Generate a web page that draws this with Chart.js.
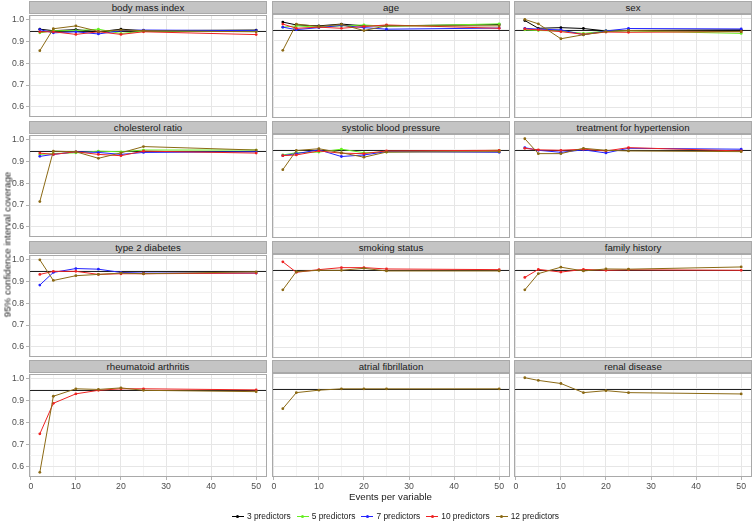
<!DOCTYPE html>
<html>
<head>
<meta charset="utf-8">
<script src="https://cdn.jsdelivr.net/npm/chart.js@4.4.1/dist/chart.umd.min.js"></script>
<style>
  body { margin: 0; background: #fff; font-family: "Liberation Sans", Arial, sans-serif; }
  #fig { position: relative; width: 756px; height: 525px; overflow: hidden; background: #fff; }
  .strip {
    position: absolute; box-sizing: border-box; background: #c4c4c4; border: 1px solid #a9a9a9;
    color: #1a1a1a; font-size: 9.7px; text-align: center; line-height: 11px;
  }
  canvas { position: absolute; }
  .title { position: absolute; z-index: 2; color: #1a1a1a; font-size: 9.7px; text-align: center; white-space: nowrap; }
  #legend { position: absolute; z-index: 2; left: 29px; width: 733px; top: 511px; text-align: center; font-size: 8.4px; color: #1a1a1a; }
  .item { display: inline-block; margin: 0 3px; white-space: nowrap; }
  .key { display: inline-block; position: relative; width: 12px; height: 10px; vertical-align: middle; margin-right: 3px; }
  .key .ln { position: absolute; left: 0; right: 0; top: 4.5px; height: 1px; }
  .key .dt { position: absolute; left: 4.5px; top: 3.5px; width: 3px; height: 3px; border-radius: 50%; }
</style>
</head>
<body>
<div id="fig"></div>
<script>
const eventsPerVariable = [2, 5, 10, 15, 20, 25, 50];

const panelTitles = [
  "body mass index", "age", "sex",
  "cholesterol ratio", "systolic blood pressure", "treatment for hypertension",
  "type 2 diabetes", "smoking status", "family history",
  "rheumatoid arthritis", "atrial fibrillation", "renal disease"
];

const seriesNames = ["3 predictors", "5 predictors", "7 predictors", "10 predictors", "12 predictors"];
const seriesColors = ["#000000", "#66ee22", "#2222ff", "#ee2222", "#8b6914"];

const targetCoverage = 0.95;

const xTickValues = [0, 5, 10, 15, 20, 25, 30, 35, 40, 45, 50];
const xTickLabels = ["0", "10", "20", "30", "40", "50"];
const yTickValues = [0.55, 0.6, 0.65, 0.7, 0.75, 0.8, 0.85, 0.9, 0.95, 1.0];
const yTickLabels = ["0.6", "0.7", "0.8", "0.9", "1.0"];

// one row per panel, in panel order; a model with k predictors only covers the first k panels
const coverage3 = [
  [0.957, 0.950, 0.955, 0.945, 0.957, 0.950, 0.953],
  [0.985, 0.972, 0.968, 0.976, 0.968, 0.968, 0.974],
  [0.992, 0.957, 0.960, 0.956, 0.945, 0.947, 0.950]
];
const coverage5 = [
  [0.940, 0.950, 0.950, 0.957, 0.937, 0.948, 0.947],
  [0.962, 0.968, 0.962, 0.968, 0.972, 0.966, 0.977],
  [0.950, 0.947, 0.945, 0.934, 0.945, 0.945, 0.934],
  [0.933, 0.937, 0.940, 0.948, 0.945, 0.953, 0.953],
  [0.927, 0.937, 0.940, 0.953, 0.937, 0.940, 0.948]
];
const coverage7 = [
  [0.955, 0.940, 0.945, 0.935, 0.950, 0.953, 0.950],
  [0.962, 0.951, 0.960, 0.970, 0.960, 0.953, 0.958],
  [0.957, 0.953, 0.950, 0.928, 0.945, 0.956, 0.954],
  [0.924, 0.933, 0.945, 0.942, 0.933, 0.942, 0.945],
  [0.924, 0.933, 0.950, 0.920, 0.927, 0.942, 0.939],
  [0.960, 0.948, 0.939, 0.950, 0.936, 0.957, 0.953],
  [0.884, 0.942, 0.960, 0.957, 0.942, 0.939, 0.939]
];
const coverage10 = [
  [0.945, 0.945, 0.933, 0.945, 0.933, 0.945, 0.932],
  [0.976, 0.957, 0.962, 0.957, 0.965, 0.972, 0.957],
  [0.954, 0.950, 0.942, 0.930, 0.940, 0.939, 0.942],
  [0.939, 0.933, 0.945, 0.933, 0.927, 0.948, 0.939],
  [0.924, 0.927, 0.945, 0.935, 0.933, 0.945, 0.948],
  [0.957, 0.950, 0.948, 0.953, 0.945, 0.960, 0.945],
  [0.933, 0.947, 0.947, 0.933, 0.936, 0.936, 0.939],
  [0.986, 0.939, 0.951, 0.960, 0.960, 0.954, 0.951],
  [0.916, 0.952, 0.940, 0.952, 0.948, 0.950, 0.948],
  [0.750, 0.889, 0.932, 0.948, 0.955, 0.955, 0.950]
];
const coverage12 = [
  [0.858, 0.959, 0.972, 0.947, 0.953, 0.950, 0.945],
  [0.858, 0.976, 0.965, 0.974, 0.947, 0.968, 0.968],
  [0.997, 0.977, 0.910, 0.928, 0.942, 0.947, 0.942],
  [0.716, 0.948, 0.945, 0.915, 0.940, 0.969, 0.953],
  [0.861, 0.947, 0.955, 0.937, 0.917, 0.940, 0.942],
  [1.000, 0.933, 0.933, 0.957, 0.948, 0.945, 0.942],
  [1.000, 0.905, 0.927, 0.933, 0.939, 0.936, 0.945],
  [0.860, 0.942, 0.948, 0.948, 0.957, 0.945, 0.945],
  [0.860, 0.933, 0.962, 0.945, 0.954, 0.953, 0.963],
  [0.575, 0.921, 0.955, 0.952, 0.959, 0.948, 0.942],
  [0.861, 0.933, 0.944, 0.950, 0.950, 0.950, 0.950],
  [1.000, 0.988, 0.974, 0.933, 0.942, 0.933, 0.927]
];
const coverageBySeries = [coverage3, coverage5, coverage7, coverage10, coverage12];

// facet geometry
const colLeft = [29, 272, 514];
const rowTop = [14, 134, 254, 373];
const plotW = 238, plotH = 104, stripH = 13;
const yAxisW = 29, xAxisH = 14, pad = 6;

// shared ranges, ggplot-style 5% expansion
const xLo = Math.min(...eventsPerVariable), xHi = Math.max(...eventsPerVariable);
const allY = coverageBySeries.flat(2).concat([targetCoverage]);
const yLo = Math.min(...allY), yHi = Math.max(...allY);
const xMin = xLo - 0.05 * (xHi - xLo), xMax = xHi + 0.05 * (xHi - xLo);
const yMin = yLo - 0.05 * (yHi - yLo), yMax = yHi + 0.05 * (yHi - yLo);

const isXMajor = (v) => xTickLabels.includes(String(v));
const isYMajor = (v) => yTickLabels.includes(v.toFixed(2).slice(0, 3)) && Math.abs(v * 10 - Math.round(v * 10)) < 1e-6;

Chart.defaults.font.family = '"Liberation Sans", Arial, sans-serif';

const panelFrame = {
  id: "panelFrame",
  beforeDatasetsDraw(chart) {
    const { ctx, chartArea: a } = chart;
    const py = Math.round(chart.scales.y.getPixelForValue(targetCoverage)) + 0.5;
    ctx.save();
    ctx.strokeStyle = "#222";
    ctx.lineWidth = 1;
    ctx.beginPath();
    ctx.moveTo(a.left, py);
    ctx.lineTo(a.right, py);
    ctx.stroke();
    ctx.restore();
  },
  afterDraw(chart) {
    const { ctx, chartArea: a } = chart;
    ctx.save();
    ctx.strokeStyle = "#a9a9a9";
    ctx.lineWidth = 1;
    ctx.strokeRect(Math.round(a.left) + 0.5, Math.round(a.top) + 0.5, Math.round(a.width) - 1, Math.round(a.height) - 1);
    ctx.restore();
  }
};

const fig = document.getElementById("fig");

panelTitles.forEach((title, i) => {
  const col = i % 3, row = Math.floor(i / 3);
  const leftCol = col === 0, bottomRow = row === 3;

  const strip = document.createElement("div");
  strip.className = "strip";
  strip.style.left = colLeft[col] + "px";
  strip.style.top = (rowTop[row] - stripH) + "px";
  strip.style.width = plotW + "px";
  strip.style.height = stripH + "px";
  strip.textContent = title;
  fig.appendChild(strip);

  const canvas = document.createElement("canvas");
  const cw = plotW + 2 * pad + (leftCol ? yAxisW : 0);
  const ch = plotH + 2 * pad + (bottomRow ? xAxisH : 0);
  canvas.width = cw;
  canvas.height = ch;
  canvas.style.width = cw + "px";
  canvas.style.height = ch + "px";
  canvas.style.left = (colLeft[col] - pad - (leftCol ? yAxisW : 0)) + "px";
  canvas.style.top = (rowTop[row] - pad) + "px";
  fig.appendChild(canvas);

  const datasets = [];
  coverageBySeries.forEach((rows, s) => {
    if (!rows[i]) return;
    datasets.push({
      label: seriesNames[s],
      data: eventsPerVariable.map((x, k) => ({ x: x, y: rows[i][k] })),
      borderColor: seriesColors[s],
      backgroundColor: seriesColors[s],
      borderWidth: 1,
      pointRadius: 1.4,
      pointBorderWidth: 0,
      tension: 0,
      order: seriesNames.length - s,
    });
  });

  new Chart(canvas.getContext("2d"), {
    type: "line",
    data: { datasets },
    plugins: [panelFrame],
    options: {
      responsive: false,
      animation: false,
      events: [],
      layout: { padding: pad },
      plugins: { legend: { display: false }, tooltip: { enabled: false } },
      scales: {
        x: {
          type: "linear",
          min: xMin,
          max: xMax,
          afterBuildTicks: (scale) => { scale.ticks = xTickValues.map((v) => ({ value: v })); },
          afterFit: (scale) => { scale.height = bottomRow ? xAxisH : 0; },
          border: { display: false },
          grid: {
            color: (c) => (c.tick && isXMajor(c.tick.value) ? "#e6e6e6" : "#f3f3f3"),
            lineWidth: 1,
            drawTicks: bottomRow,
            tickLength: 3,
            tickColor: (c) => (c.tick && isXMajor(c.tick.value) ? "#b3b3b3" : "rgba(0,0,0,0)"),
          },
          ticks: {
            display: bottomRow,
            autoSkip: false,
            maxRotation: 0,
            padding: 1,
            color: "#4d4d4d",
            font: { size: 8.7 },
            callback: (v) => (isXMajor(v) ? String(v) : ""),
          },
        },
        y: {
          type: "linear",
          min: yMin,
          max: yMax,
          afterBuildTicks: (scale) => { scale.ticks = yTickValues.filter((v) => v >= yMin && v <= yMax).map((v) => ({ value: v })); },
          afterFit: (scale) => { scale.width = leftCol ? yAxisW : 0; },
          border: { display: false },
          grid: {
            color: (c) => (c.tick && isYMajor(c.tick.value) ? "#e6e6e6" : "#f3f3f3"),
            lineWidth: 1,
            drawTicks: leftCol,
            tickLength: 3,
            tickColor: (c) => (c.tick && isYMajor(c.tick.value) ? "#b3b3b3" : "rgba(0,0,0,0)"),
          },
          ticks: {
            display: leftCol,
            autoSkip: false,
            padding: 2,
            color: "#4d4d4d",
            font: { size: 8.7 },
            callback: (v) => (isYMajor(v) ? v.toFixed(1) : ""),
          },
        },
      },
    },
  });
});

// axis titles
const xTitle = document.createElement("div");
xTitle.className = "title";
xTitle.style.left = colLeft[0] + "px";
xTitle.style.width = (colLeft[2] + plotW - colLeft[0]) + "px";
xTitle.style.top = "491px";
xTitle.textContent = "Events per variable";
fig.appendChild(xTitle);

const yTitle = document.createElement("div");
yTitle.className = "title";
yTitle.style.width = "300px";
yTitle.style.left = (7 - 150) + "px";
yTitle.style.top = (245 - 6) + "px";
yTitle.style.transform = "rotate(-90deg)";
yTitle.textContent = "95% confidence interval coverage";
fig.appendChild(yTitle);

// legend
const legend = document.createElement("div");
legend.id = "legend";
seriesNames.forEach((name, s) => {
  const item = document.createElement("span");
  item.className = "item";
  item.innerHTML = '<span class="key"><span class="ln" style="background:' + seriesColors[s] +
    '"></span><span class="dt" style="background:' + seriesColors[s] + '"></span></span>' + name;
  legend.appendChild(item);
});
fig.appendChild(legend);
</script>
</body>
</html>
